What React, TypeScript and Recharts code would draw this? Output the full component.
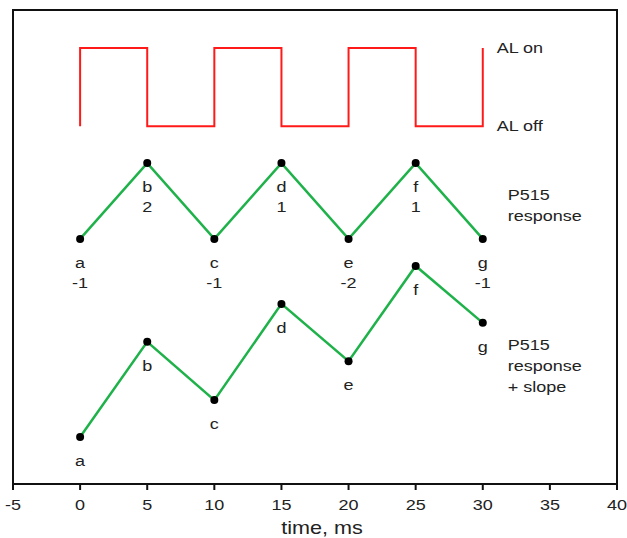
import { LineChart, Line, XAxis, YAxis, ReferenceDot, ReferenceArea } from 'recharts'

// time points of the P515 response (ms)
const times = [0, 5, 10, 15, 20, 25, 30]
const pointNames = ['a', 'b', 'c', 'd', 'e', 'f', 'g']
const responseCodes = ['-1', '2', '-1', '1', '-2', '1', '-1']
const responseLevels = [51.7, 67.7, 51.7, 67.7, 51.7, 67.7, 51.7]
const slopeLevels = [9.9, 30.0, 17.7, 38.0, 25.9, 46.0, 34.0]

// AL square wave: switching times and state (1 = on, 0 = off)
const alTimes = [0, 0, 5, 5, 10, 10, 15, 15, 20, 20, 25, 25, 30, 30]
const alStates = [0, 1, 1, 0, 0, 1, 1, 0, 0, 1, 1, 0, 0, 1]
const AL_ON = 92.0
const AL_OFF = 75.5

const xTicks = [-5, 0, 5, 10, 15, 20, 25, 30, 35, 40]

const alData = alTimes.map((t, i) => ({ t, al: alStates[i] ? AL_ON : AL_OFF }))
const responseData = times.map((t, i) => ({ t, v: responseLevels[i] }))
const slopeData = times.map((t, i) => ({ t, v: slopeLevels[i] }))

const FONT = '"Liberation Sans", Arial, sans-serif'
const TEXT = '#222'
const GREEN = '#1fb24a'
const STRETCH = 1.2 // the lettering is set slightly wide

// text drawn horizontally widened around its anchor point
const WideText = ({ x, y, size, anchor = 'start', children }: any) => (
  <text
    transform={`translate(${x} ${y}) scale(${STRETCH} 1)`}
    textAnchor={anchor}
    fontSize={size}
    fill={TEXT}
    fontFamily={FONT}
  >
    {children}
  </text>
)

const pointLabel = (withCode: boolean) => (props: any) => {
  const { x, y, index } = props
  return (
    <g>
      <WideText x={x} y={y + 29} size={15} anchor="middle">{pointNames[index]}</WideText>
      {withCode && <WideText x={x} y={y + 49} size={15} anchor="middle">{responseCodes[index]}</WideText>}
    </g>
  )
}

const sideNote = (lines: string[], dx: number, dy: number) => (props: any) => {
  const { viewBox } = props
  const x = viewBox.x + viewBox.width / 2 + dx
  const y = viewBox.y + viewBox.height / 2 + dy
  return (
    <g>
      {lines.map((s, i) => (
        <WideText key={i} x={x} y={y + 5 + i * 21} size={15}>{s}</WideText>
      ))}
    </g>
  )
}

const timeTick = (props: any) => (
  <WideText x={props.x} y={props.y + 11} size={15} anchor="middle">{props.payload.value}</WideText>
)

const timeTitle = (props: any) => {
  const { viewBox } = props
  return (
    <WideText x={viewBox.x + viewBox.width / 2 + 7} y={viewBox.y + viewBox.height - 4} size={18} anchor="middle">
      time, ms
    </WideText>
  )
}

const App = () => {
  return (
    <div style={{ position: 'absolute', left: 0, top: 0, background: '#fff' }}>
      <LineChart
        width={627}
        height={538}
        margin={{ top: 10, right: 10, left: 13, bottom: 0 }}
        style={{ fontFamily: FONT }}
      >
        <XAxis
          dataKey="t"
          type="number"
          domain={[-5, 40]}
          ticks={xTicks}
          interval={0}
          height={54}
          stroke="#111"
          strokeWidth={2}
          tickSize={6}
          tickMargin={9}
          tick={timeTick}
          label={timeTitle}
        />
        <YAxis type="number" domain={[0, 100]} width={0} hide />

        {/* plot frame */}
        <ReferenceArea x1={-5} x2={40} y1={0} y2={100} fill="none" stroke="#111" strokeWidth={2} />

        <Line data={alData} dataKey="al" type="linear" stroke="#ff1a1a" strokeWidth={2} dot={false} isAnimationActive={false} />
        <Line
          data={responseData}
          dataKey="v"
          type="linear"
          stroke={GREEN}
          strokeWidth={2.5}
          dot={{ r: 4, fill: '#000', stroke: '#000', strokeWidth: 0 }}
          label={pointLabel(true)}
          isAnimationActive={false}
        />
        <Line
          data={slopeData}
          dataKey="v"
          type="linear"
          stroke={GREEN}
          strokeWidth={2.5}
          dot={{ r: 4, fill: '#000', stroke: '#000', strokeWidth: 0 }}
          label={pointLabel(false)}
          isAnimationActive={false}
        />

        <ReferenceDot x={30} y={AL_ON} r={0} fillOpacity={0} strokeOpacity={0} label={sideNote(['AL on'], 14, 0)} />
        <ReferenceDot x={30} y={AL_OFF} r={0} fillOpacity={0} strokeOpacity={0} label={sideNote(['AL off'], 14, 0)} />
        <ReferenceDot x={30} y={responseLevels[6]} r={0} fillOpacity={0} strokeOpacity={0} label={sideNote(['P515', 'response'], 25, -44)} />
        <ReferenceDot x={30} y={slopeLevels[6]} r={0} fillOpacity={0} strokeOpacity={0} label={sideNote(['P515', 'response', '+ slope'], 25, 22)} />
      </LineChart>
    </div>
  )
}

export default App
